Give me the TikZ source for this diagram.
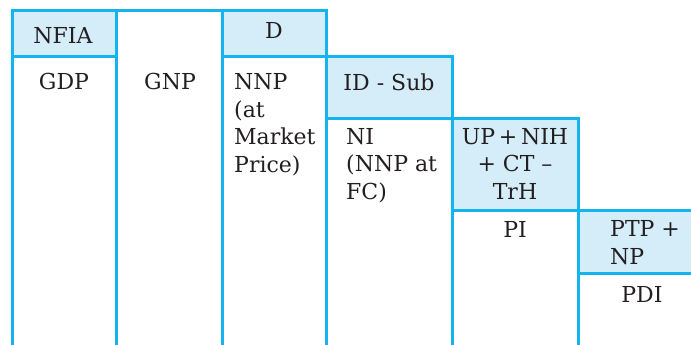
\documentclass[tikz,border=0pt]{standalone}
\usepackage{fontspec}
\setmainfont{DejaVu Serif}
\definecolor{rule}{HTML}{14B4F0}
\definecolor{cellfill}{HTML}{D5ECF9}
\definecolor{txt}{HTML}{231F20}
\begin{document}
\begin{tikzpicture}[x=1pt,y=-1pt,
  rl/.style={draw=rule,line width=3pt,line cap=rect},
  cell/.style={fill=cellfill},
  lbl/.style={inner sep=0pt,text=txt,font=\fontsize{22}{27.5}\selectfont},
  lblc/.style={lbl,anchor=base,align=center},
  lbll/.style={lbl,anchor=base west,align=left}]
\useasboundingbox (0,0) rectangle (691,345);
\begin{scope}
\clip (0,0) rectangle (691,345);
% shaded cells
\fill[cell] (12,11) rectangle (116,57);
\fill[cell] (222,11) rectangle (326,57);
\fill[cell] (326,57) rectangle (452,118);
\fill[cell] (452,118) rectangle (578,210);
\fill[cell] (578,210) rectangle (700,273);
% horizontal rules
\draw[rl] (12,11) -- (326,11);
\draw[rl] (12,57) -- (116,57);
\draw[rl] (222,57) -- (452,57);
\draw[rl] (326,118) -- (578,118);
\draw[rl] (452,210) -- (700,210);
\draw[rl] (578,273) -- (700,273);
% vertical rules
\draw[rl] (12,11) -- (12,350);
\draw[rl] (116,11) -- (116,350);
\draw[rl] (222,11) -- (222,350);
\draw[rl] (326,11) -- (326,350);
\draw[rl] (452,57) -- (452,350);
\draw[rl] (578,118) -- (578,350);
\end{scope}
% labels (multi-line nodes are placed by the baseline of their last line)
\node[lblc] (nfia) at (63,44) {NFIA};
\node[lblc] (d) at (274,39) {D};
\node[lblc] (gdp) at (64,89) {GDP};
\node[lblc] (gnp) at (170,89) {GNP};
\node[lbll] (nnp) at (234,172) {NNP\\(at\\Market\\Price)};
\node[lblc] (idsub) at (389,90) {ID - Sub};
\node[lbll] (ni) at (346,199) {NI\\(NNP at\\FC)};
\node[lblc] (up) at (515,199) {UP\,+\,NIH\\+ CT –\\TrH};
\node[lblc] (pi) at (515,237) {PI};
\node[lbll] (ptp) at (610,264) {PTP +\\NP};
\node[lblc] (pdi) at (642,302) {PDI};
\end{tikzpicture}
\end{document}
